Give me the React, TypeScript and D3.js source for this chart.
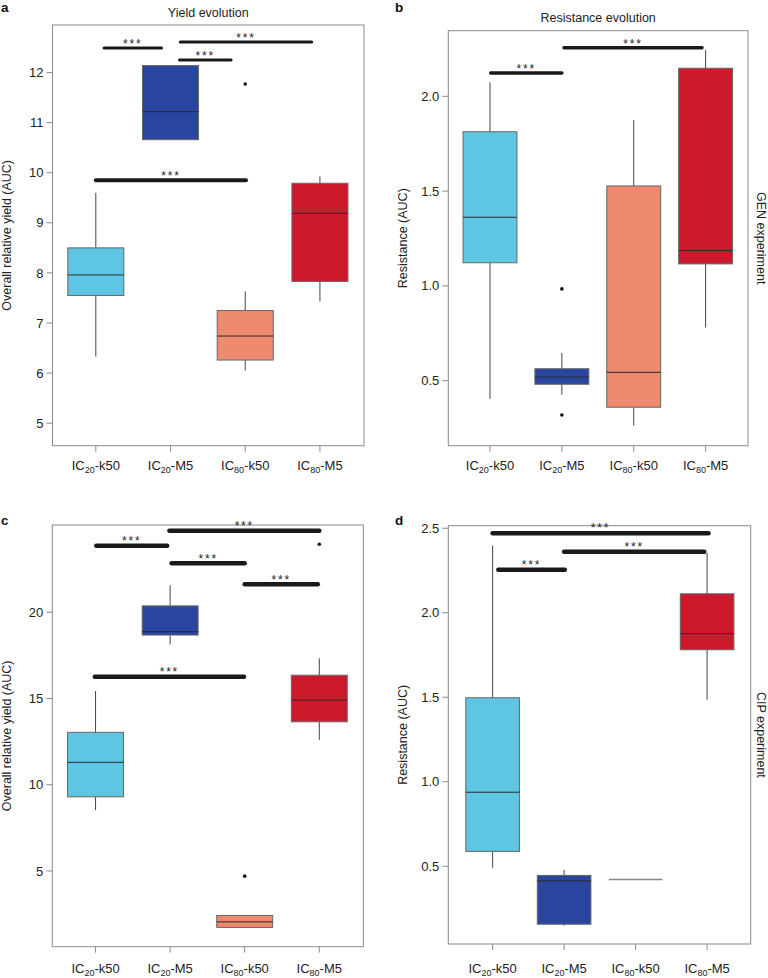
import React from "react";
import * as d3 from "d3";

// ---------- DATA ----------
const categories = ["IC20-k50", "IC20-M5", "IC80-k50", "IC80-M5"];
const fillColors = ["#5ec6e3", "#2a45a0", "#ef8a6e", "#cc1a2c"];

// [lower whisker, Q1, median, Q3, upper whisker]
const yieldGEN = [
  [6.33, 7.55, 7.96, 8.5, 9.6],
  [10.66, 10.66, 11.22, 12.14, 12.14],
  [6.05, 6.26, 6.74, 7.25, 7.63],
  [7.43, 7.83, 9.19, 9.79, 9.93],
];
const yieldGENOutliers = [[], [], [11.77], []];
const yieldGENTicks = [5, 6, 7, 8, 9, 10, 11, 12];
// [from group, to group, y]
const yieldGENSig = [
  [1.11, 1.88, 12.49],
  [2.12, 2.81, 12.25],
  [2.13, 3.89, 12.61],
  [1.0, 3.01, 9.85],
];

const resistGEN = [
  [0.404, 1.122, 1.362, 1.813, 2.074],
  [0.426, 0.481, 0.519, 0.563, 0.646],
  [0.263, 0.36, 0.544, 1.527, 1.875],
  [0.78, 1.116, 1.186, 2.148, 2.244],
];
const resistGENOutliers = [[], [0.984, 0.319], [], []];
const resistGENTicks = [0.5, 1.0, 1.5, 2.0];
const resistGENSig = [
  [1.01, 2.0, 2.123],
  [2.03, 3.95, 2.256],
];

const yieldCIP = [
  [8.53, 9.3, 11.3, 13.04, 15.43],
  [18.14, 18.68, 18.88, 20.37, 21.57],
  [1.73, 1.73, 2.05, 2.42, 2.42],
  [12.6, 13.65, 14.91, 16.35, 17.33],
];
const yieldCIPOutliers = [[], [], [4.7], [23.94]];
const yieldCIPTicks = [5, 10, 15, 20];
const yieldCIPSig = [
  [1.01, 1.96, 23.85],
  [2.02, 3.0, 22.84],
  [3.0, 3.98, 21.62],
  [1.99, 4.0, 24.72],
  [0.99, 2.99, 16.26],
];

const resistCIP = [
  [0.491, 0.588, 0.938, 1.497, 2.398],
  [0.148, 0.157, 0.414, 0.446, 0.479],
  [0.422, 0.422, 0.422, 0.422, 0.422],
  [1.485, 1.781, 1.876, 2.112, 2.355],
];
const resistCIPOutliers = [[], [], [], []];
const resistCIPTicks = [0.5, 1.0, 1.5, 2.0, 2.5];
const resistCIPSig = [
  [1.08, 2.01, 2.254],
  [2.0, 3.96, 2.361],
  [1.0, 4.02, 2.471],
];

// ---------- COMPONENTS ----------
const FONT = "'Liberation Sans', Arial, Helvetica, sans-serif";
const FS = 12.5;
const TFS = 13;

function CatLabel({ label, x, y }) {
  const m = label.match(/^IC(\d+)(-.*)$/);
  return (
    <text x={x} y={y} textAnchor="middle" fontSize={TFS} fill="#222" fontFamily={FONT}>
      IC
      <tspan fontSize={9} dy={3}>{m[1]}</tspan>
      <tspan dy={-3}>{m[2]}</tspan>
    </text>
  );
}

function Panel(props) {
  const {
    left, top, right, bottom, xDomain, yDomain, stats, outliers, ticks,
    sig, sigWidth, tickFmt, letter, letterX, letterY, title, titleY,
    yLabel, yLabelX, sideLabel, catY,
  } = props;
  const x = d3.scaleLinear().domain(xDomain).range([left, right]);
  const y = d3.scaleLinear().domain(yDomain).range([bottom, top]);
  const unit = x(2) - x(1);
  const hw = unit * 0.375;
  const midY = (top + bottom) / 2;
  return (
    <g fontFamily={FONT}>
      <text x={letterX} y={letterY} fontWeight="bold" fontSize={13.5} fill="#111">{letter}</text>
      {title && (
        <text x={(left + right) / 2} y={titleY} textAnchor="middle" fontSize={FS} fill="#222">{title}</text>
      )}
      <text
        transform={`translate(${yLabelX},${midY}) rotate(-90)`}
        textAnchor="middle" fontSize={FS} fill="#222"
      >{yLabel}</text>
      {sideLabel && (
        <text
          transform={`translate(757,${midY}) rotate(90)`}
          textAnchor="middle" fontSize={FS} fill="#222"
        >{sideLabel}</text>
      )}
      {/* frame */}
      <rect x={left} y={top} width={right - left} height={bottom - top} fill="none" stroke="#8a8a8a" strokeWidth={1} />
      {/* y ticks */}
      {ticks.map((t) => (
        <g key={t}>
          <line x1={left - 6} x2={left} y1={y(t)} y2={y(t)} stroke="#8a8a8a" />
          <text x={left - 9} y={y(t) + 4.6} textAnchor="end" fontSize={TFS} fill="#222">{tickFmt(t)}</text>
        </g>
      ))}
      {/* x ticks */}
      {categories.map((c, i) => (
        <g key={c}>
          <line x1={x(i + 1)} x2={x(i + 1)} y1={bottom} y2={bottom + 6} stroke="#8a8a8a" />
          <CatLabel label={c} x={x(i + 1)} y={catY} />
        </g>
      ))}
      {/* boxes */}
      {stats.map((s, i) => {
        const cx = x(i + 1);
        const [lo, q1, med, q3, hi] = s;
        const flat = q1 === q3;
        return (
          <g key={i}>
            <line x1={cx} x2={cx} y1={y(hi)} y2={y(q3)} stroke="#444" strokeWidth={1} />
            <line x1={cx} x2={cx} y1={y(q1)} y2={y(lo)} stroke="#444" strokeWidth={1} />
            {flat ? (
              <line x1={cx - hw} x2={cx + hw} y1={y(med)} y2={y(med)} stroke="#888" strokeWidth={1.6} />
            ) : (
              <>
                <rect x={cx - hw} y={y(q3)} width={2 * hw} height={y(q1) - y(q3)} fill={fillColors[i]} stroke="#666" strokeWidth={1} />
                <line x1={cx - hw} x2={cx + hw} y1={y(med)} y2={y(med)} stroke="#2a2a2a" strokeWidth={1} />
              </>
            )}
            {outliers[i].map((o, k) => (
              <circle key={k} cx={cx} cy={y(o)} r={1.8} fill="#111" />
            ))}
          </g>
        );
      })}
      {/* significance bars */}
      {sig.map((b, k) => {
        const w = Array.isArray(sigWidth) ? sigWidth[k] : sigWidth;
        return (
          <g key={k}>
            <line x1={x(b[0])} x2={x(b[1])} y1={y(b[2])} y2={y(b[2])} stroke="#1a1a1a" strokeWidth={w} strokeLinecap="round" />
            <text x={(x(b[0]) + x(b[1])) / 2} y={y(b[2]) - w / 2 + 1.5} textAnchor="middle" fontSize={12} letterSpacing={1.8} fill="#222">***</text>
          </g>
        );
      })}
    </g>
  );
}

export default function App() {
  const f0 = (t) => String(t);
  const f1 = (t) => t.toFixed(1);
  return (
    <div style={{ position: "absolute", left: 0, top: 0 }}>
      <svg width={768} height={978} style={{ display: "block", background: "#fff" }}>
        <Panel
          left={52.5} top={25} right={364} bottom={445.7}
          xDomain={[0.42, 4.59]} yDomain={[4.55, 12.95]}
          stats={yieldGEN} outliers={yieldGENOutliers} ticks={yieldGENTicks}
          sig={yieldGENSig} sigWidth={[3, 3, 3, 4]} tickFmt={f0}
          letter="a" letterX={1} letterY={12}
          title="Yield evolution" titleY={17}
          yLabel="Overall relative yield (AUC)" yLabelX={11}
          catY={470}
        />
        <Panel
          left={448.3} top={30.7} right={748} bottom={445.7}
          xDomain={[0.42, 4.59]} yDomain={[0.157, 2.346]}
          stats={resistGEN} outliers={resistGENOutliers} ticks={resistGENTicks}
          sig={resistGENSig} sigWidth={3.5} tickFmt={f1}
          letter="b" letterX={395} letterY={12}
          title="Resistance evolution" titleY={22}
          yLabel="Resistance (AUC)" yLabelX={407}
          sideLabel="GEN experiment"
          catY={470}
        />
        <Panel
          left={52.3} top={525} right={363.3} bottom={946.7}
          xDomain={[0.42, 4.59]} yDomain={[0.61, 25.06]}
          stats={yieldCIP} outliers={yieldCIPOutliers} ticks={yieldCIPTicks}
          sig={yieldCIPSig} sigWidth={4.5} tickFmt={f0}
          letter="c" letterX={1} letterY={525}
          yLabel="Overall relative yield (AUC)" yLabelX={11}
          catY={973}
        />
        <Panel
          left={448.3} top={525.7} right={750.7} bottom={944}
          xDomain={[0.38, 4.61]} yDomain={[0.04, 2.515]}
          stats={resistCIP} outliers={resistCIPOutliers} ticks={resistCIPTicks}
          sig={resistCIPSig} sigWidth={4.5} tickFmt={f1}
          letter="d" letterX={395} letterY={525}
          yLabel="Resistance (AUC)" yLabelX={407}
          sideLabel="CIP experiment"
          catY={973}
        />
      </svg>
    </div>
  );
}
